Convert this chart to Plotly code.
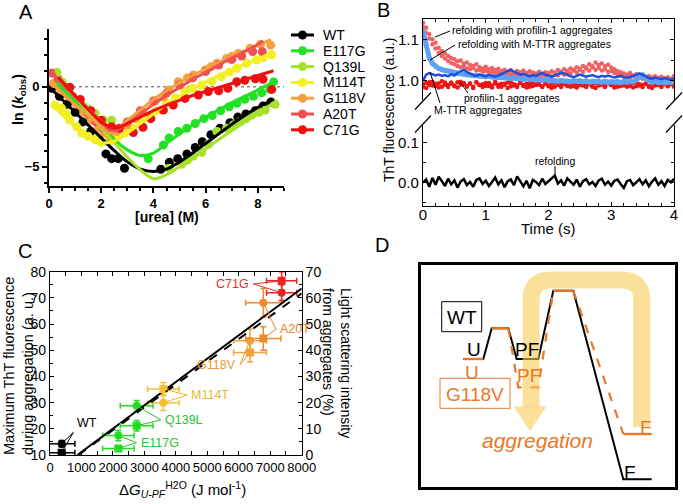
import plotly.graph_objects as go

W, H = 683, 504
FONT = "Liberation Sans, Arial, sans-serif"

# ---------------- Panel A data (chevron plots) ----------------
variants_a = ["WT", "E117G", "Q139L", "M114T", "G118V", "A20T", "C71G"]
colors_a = ["#000000", "#22e022", "#a6e22a", "#f2f020", "#f5a040", "#f05050", "#ee1010"]

wt_urea = [0.1, 0.4, 0.7, 1.0, 1.3, 1.6, 1.9, 2.18, 2.4, 2.65, 2.89, 4.28, 4.61, 4.93, 5.28, 5.6, 5.87, 6.2, 6.55, 6.93, 7.23, 7.54, 7.9, 8.2, 8.5]
wt_lnk = [-0.1, -0.6, -1.1, -1.6, -2.2, -2.8, -3.3, -4.2, -4.5, -4.5, -5.1, -5.16, -4.73, -4.5, -4.2, -3.8, -3.44, -3.0, -2.6, -2.25, -1.9, -1.7, -1.5, -1.2, -0.95]
e117g_urea = [0.4, 0.7, 1.0, 1.3, 1.6, 1.9, 2.2, 3.8, 4.38, 4.6, 4.95, 5.28, 5.6, 5.93, 6.25, 6.57, 6.9, 7.2, 7.5, 7.83, 8.15, 8.47, 8.6]
e117g_lnk = [0.1, -0.4, -0.9, -1.4, -1.9, -2.4, -2.9, -4.5, -3.64, -3.2, -2.8, -2.6, -2.3, -2.0, -1.8, -1.5, -1.25, -1.04, -0.79, -0.6, -0.37, -0.16, 0.3]
q139l_urea = [0.3, 0.5, 0.7, 0.9, 1.1, 1.3, 1.5, 1.76, 2.08, 2.4, 4.6, 5.08, 5.3, 5.53, 5.85, 6.1, 6.43, 6.8, 7.05, 7.32, 7.55, 7.77, 8.05, 8.28, 8.66]
q139l_lnk = [0.9, 0.3, -0.2, -0.6, -0.9, -1.2, -1.4, -1.66, -2.08, -2.1, -5.1, -4.85, -4.6, -4.33, -4.1, -3.6, -2.8, -2.6, -2.4, -2.19, -2.0, -1.77, -1.6, -1.46, -1.1]
m114t_urea = [0.23, 0.48, 0.65, 0.8, 1.06, 1.25, 1.5, 1.76, 2.0, 2.3, 2.6, 2.9, 3.2, 3.5, 3.8, 4.1, 4.5, 4.84, 5.21, 5.5, 5.85, 6.24, 6.6, 6.9, 7.19, 7.57, 7.95, 8.2, 8.53]
m114t_lnk = [-1.15, -1.35, -1.7, -2.08, -2.5, -2.9, -3.1, -3.3, -3.5, -3.45, -3.2, -2.9, -2.6, -2.2, -1.9, -1.5, -1.04, -0.7, -0.3, -0.1, 0.1, 0.33, 0.63, 0.9, 1.15, 1.46, 1.67, 1.8, 2.0]
g118v_urea = [0.17, 0.45, 0.75, 1.05, 1.35, 1.65, 1.9, 2.1, 2.35, 2.6, 2.98, 3.3, 3.6, 4.06, 4.38, 4.6, 4.95, 5.3, 5.53, 5.98, 6.2, 6.43, 6.8, 7.0, 7.25, 7.7, 8.1, 8.49]
g118v_lnk = [0.2, -0.2, -0.6, -1.1, -1.6, -2.1, -2.6, -2.9, -3.2, -2.8, -2.4, -2.0, -1.6, -0.9, -0.63, -0.2, 0.31, 0.55, 0.73, 1.04, 1.25, 1.46, 1.77, 1.9, 2.08, 2.4, 2.65, 2.6]
a20t_urea = [0.1, 0.35, 0.6, 0.9, 1.2, 1.5, 1.8, 2.1, 2.4, 3.0, 3.5, 4.0, 4.5, 5.0, 5.5, 6.0, 6.5, 7.0, 7.38, 7.8, 8.17]
a20t_lnk = [0.85, 0.5, 0.0, -0.6, -1.2, -1.7, -2.2, -2.6, -2.7, -2.2, -1.5, -0.9, -0.4, 0.1, 0.55, 0.95, 1.35, 1.7, 1.92, 2.2, 2.19]
c71g_urea = [0.8, 1.2, 1.6, 2.0, 2.4, 2.7, 3.23, 3.6, 3.9, 4.38, 4.76, 5.21, 5.72, 6.1, 6.5, 6.85, 7.19, 7.5, 7.9, 8.2, 8.53]
c71g_lnk = [-0.04, -0.8, -1.5, -2.1, -2.5, -2.6, -2.87, -2.54, -2.0, -1.46, -1.15, -0.73, -0.52, -0.3, -0.25, -0.1, 0.31, 0.4, 0.5, 0.46, -0.17]

wt_fit_urea = [0, 0.5, 1, 1.5, 2, 2.5, 3, 3.5, 4, 4.5, 5, 5.5, 6, 6.5, 7, 7.5, 8, 8.6]
wt_fit_lnk = [0, -0.8, -1.6, -2.4, -3.2, -4.0, -4.7, -5.15, -5.3, -5.15, -4.7, -4.15, -3.55, -2.95, -2.35, -1.8, -1.3, -0.8]
e117g_fit_urea = [0.3, 0.5, 1, 1.5, 2, 2.5, 3, 3.5, 4, 4.5, 5, 5.5, 6, 6.5, 7, 7.5, 8, 8.6]
e117g_fit_lnk = [0.3, -0.1, -0.9, -1.7, -2.5, -3.3, -3.95, -4.3, -4.15, -3.55, -2.95, -2.4, -1.9, -1.45, -1.0, -0.6, -0.2, 0.3]
q139l_fit_urea = [0.25, 0.5, 1, 1.5, 2, 2.5, 3, 3.5, 4, 4.5, 5, 5.5, 6, 6.5, 7, 7.5, 8, 8.6]
q139l_fit_lnk = [1.0, 0.4, -0.6, -1.6, -2.6, -3.5, -4.4, -5.2, -5.75, -5.5, -5.0, -4.5, -3.9, -3.3, -2.75, -2.2, -1.7, -1.0]
m114t_fit_urea = [0.2, 0.6, 1, 1.5, 2, 2.5, 3, 3.5, 4, 4.5, 5, 5.5, 6, 6.5, 7, 7.5, 8, 8.6]
m114t_fit_lnk = [-1.3, -1.9, -2.5, -3.1, -3.5, -3.4, -2.9, -2.3, -1.7, -1.1, -0.6, -0.15, 0.3, 0.7, 1.05, 1.4, 1.75, 2.15]
g118v_fit_urea = [0.1, 0.5, 1, 1.5, 2, 2.34, 3, 3.5, 4, 4.5, 5, 5.5, 6, 6.5, 7, 7.5, 8, 8.5]
g118v_fit_lnk = [0.2, -0.4, -1.1, -1.8, -2.5, -2.9, -2.1, -1.45, -0.8, -0.25, 0.25, 0.7, 1.1, 1.5, 1.9, 2.25, 2.6, 2.95]
a20t_fit_urea = [0.1, 0.5, 1, 1.5, 2, 2.5, 3, 3.5, 4, 4.5, 5, 5.5, 6, 6.5, 7, 7.5, 8, 8.2]
a20t_fit_lnk = [0.8, 0.2, -0.6, -1.4, -2.15, -2.75, -2.3, -1.7, -1.1, -0.55, -0.05, 0.45, 0.9, 1.35, 1.8, 2.2, 2.65, 2.85]
c71g_fit_urea = [0.35, 0.8, 1.2, 1.6, 2.0, 2.5, 3, 3.5, 4, 4.5, 5, 5.5, 6, 6.5, 7, 7.5, 8, 8.6]
c71g_fit_lnk = [0.6, -0.2, -0.9, -1.6, -2.2, -2.6, -2.3, -1.9, -1.5, -1.15, -0.85, -0.55, -0.3, -0.05, 0.2, 0.45, 0.7, 1.0]

pts_a = [(wt_urea, wt_lnk), (e117g_urea, e117g_lnk), (q139l_urea, q139l_lnk), (m114t_urea, m114t_lnk),
         (g118v_urea, g118v_lnk), (a20t_urea, a20t_lnk), (c71g_urea, c71g_lnk)]
fits_a = [(wt_fit_urea, wt_fit_lnk), (e117g_fit_urea, e117g_fit_lnk), (q139l_fit_urea, q139l_fit_lnk),
          (m114t_fit_urea, m114t_fit_lnk), (g118v_fit_urea, g118v_fit_lnk), (a20t_fit_urea, a20t_fit_lnk),
          (c71g_fit_urea, c71g_fit_lnk)]

# ---------------- Panel B data (ThT kinetics) ----------------
time_s = [round(0.05 * i, 2) for i in range(81)]
refold_profilin_a = [1.140, 1.128, 1.112, 1.100, 1.092, 1.080, 1.072, 1.066, 1.060, 1.055,
                     1.052, 1.047, 1.049, 1.042, 1.044, 1.038, 1.036, 1.040, 1.033, 1.030,
                     1.034, 1.028, 1.031, 1.026, 1.029, 1.024, 1.027, 1.022, 1.026, 1.020,
                     1.024, 1.021, 1.025, 1.019, 1.023, 1.020, 1.018, 1.022, 1.017, 1.021,
                     1.019, 1.023, 1.020, 1.026, 1.022, 1.028, 1.024, 1.030, 1.027, 1.033,
                     1.029, 1.036, 1.032, 1.040, 1.035, 1.044, 1.038, 1.042, 1.035, 1.039,
                     1.032, 1.028, 1.024, 1.021, 1.018, 1.015, 1.019, 1.013, 1.016, 1.011,
                     1.014, 1.010, 1.012, 1.008, 1.011, 1.007, 1.010, 1.006, 1.009, 1.005,
                     1.012]
refold_profilin_b = [1.130, 1.116, 1.102, 1.088, 1.078, 1.068, 1.060, 1.054, 1.048, 1.043,
                     1.040, 1.036, 1.033, 1.035, 1.030, 1.028, 1.031, 1.025, 1.027, 1.022,
                     1.024, 1.020, 1.022, 1.017, 1.020, 1.015, 1.018, 1.013, 1.016, 1.012,
                     1.015, 1.011, 1.014, 1.010, 1.013, 1.009, 1.012, 1.008, 1.013, 1.010,
                     1.014, 1.011, 1.016, 1.013, 1.019, 1.015, 1.021, 1.018, 1.025, 1.020,
                     1.027, 1.022, 1.030, 1.025, 1.033, 1.027, 1.031, 1.025, 1.028, 1.022,
                     1.024, 1.019, 1.016, 1.013, 1.010, 1.012, 1.008, 1.011, 1.006, 1.009,
                     1.005, 1.008, 1.004, 1.007, 1.003, 1.006, 1.002, 1.005, 1.001, 1.004,
                     1.007]
profilin_agg_a = [0.985, 0.995, 0.990, 0.998, 0.988, 0.994, 0.986, 0.996, 0.990, 0.993,
                  0.987, 0.997, 0.991, 0.995, 0.988, 0.993, 0.986, 0.996, 0.990, 0.992,
                  0.988, 0.995, 0.989, 0.994, 0.986, 0.993, 0.990, 0.996, 0.987, 0.992,
                  0.989, 0.995, 0.988, 0.993, 0.986, 0.994, 0.990, 0.992, 0.987, 0.996,
                  0.989, 0.993, 0.986, 0.995, 0.990, 0.992, 0.988, 0.994, 0.987, 0.993,
                  0.990, 0.996, 0.988, 0.992, 0.986, 0.995, 0.989, 0.993, 0.987, 0.994,
                  0.990, 0.992, 0.986, 0.996, 0.989, 0.993, 0.988, 0.995, 0.987, 0.992,
                  0.990, 0.994, 0.986, 0.993, 0.989, 0.995, 0.988, 0.992, 0.987, 0.994,
                  0.990]
profilin_agg_b = [0.992, 0.983, 0.997, 0.989, 0.993, 0.984, 0.999, 0.991, 0.985, 0.996,
                  0.989, 0.984, 0.998, 0.992, 0.986, 0.994, 0.983, 0.997, 0.990, 0.985,
                  0.995, 0.988, 0.984, 0.998, 0.991, 0.986, 0.993, 0.983, 0.996, 0.989,
                  0.985, 0.997, 0.990, 0.984, 0.994, 0.988, 0.999, 0.991, 0.985, 0.993,
                  0.987, 0.983, 0.996, 0.990, 0.985, 0.998, 0.992, 0.986, 0.994, 0.984,
                  0.997, 0.989, 0.985, 0.993, 0.987, 0.983, 0.996, 0.991, 0.985, 0.998,
                  0.990, 0.984, 0.994, 0.988, 0.999, 0.986, 0.992, 0.984, 0.997, 0.989,
                  0.985, 0.993, 0.987, 0.983, 0.996, 0.990, 0.985, 0.994, 0.988, 0.992,
                  0.986]
refold_mttr = [1.120, 1.085, 1.055, 1.042, 1.035, 1.030, 1.027, 1.025, 1.023, 1.021,
               1.020, 1.018, 1.017, 1.016, 1.015, 1.014, 1.013, 1.013, 1.012, 1.011,
               1.010, 1.011, 1.009, 1.010, 1.008, 1.009, 1.007, 1.008, 1.006, 1.007,
               1.005, 1.006, 1.004, 1.005, 1.003, 1.004, 1.002, 1.004, 1.001, 1.003,
               1.002, 1.000, 1.001, 0.999, 1.001, 0.999, 1.000, 0.998, 1.000, 0.999,
               1.001, 0.998, 1.000, 0.997, 0.999, 0.998, 1.000, 0.997, 0.999, 0.996,
               0.998, 0.997, 0.999, 0.996, 0.998, 0.997, 0.999, 0.998, 1.003, 1.008,
               1.014, 1.006, 1.000, 0.997, 0.999, 0.996, 0.998, 0.995, 0.997, 0.996,
               0.998]
mttr_agg = [1.000, 1.015, 1.019, 1.016, 1.013, 1.015, 1.012, 1.014, 1.011, 1.016,
            1.013, 1.019, 1.024, 1.027, 1.021, 1.017, 1.014, 1.012, 1.015, 1.013,
            1.011, 1.014, 1.012, 1.010, 1.013, 1.016, 1.020, 1.024, 1.026, 1.022,
            1.018, 1.015, 1.017, 1.013, 1.011, 1.014, 1.012, 1.016, 1.019, 1.015,
            1.012, 1.010, 1.013, 1.016, 1.020, 1.018, 1.014, 1.011, 1.009, 1.012,
            1.015, 1.013, 1.010, 1.012, 1.014, 1.011, 1.009, 1.012, 1.010, 1.013,
            1.011, 1.008, 1.010, 1.012, 1.009, 1.007, 1.010, 1.012, 1.015, 1.018,
            1.014, 1.010, 1.007, 1.005, 1.008, 1.006, 1.004, 1.007, 1.005, 1.003,
            1.006]
refold_alone = [0.000, 0.008, -0.010, 0.012, -0.005, 0.015, 0.004, -0.008, 0.010, -0.004,
                0.006, -0.012, 0.003, 0.009, -0.006, 0.002, -0.010, 0.007, 0.011, -0.003,
                0.005, -0.008, 0.002, 0.013, -0.004, 0.006, -0.011, 0.004, 0.008, -0.006,
                0.016, 0.003, -0.009, 0.005, -0.014, 0.007, 0.002, -0.006, 0.010, -0.003,
                0.004, 0.009, 0.018, -0.002, 0.006, -0.007, 0.011, 0.003, -0.005, 0.008,
                -0.010, 0.004, 0.009, -0.004, 0.002, -0.008, 0.006, 0.010, -0.005, 0.003,
                -0.007, 0.005, 0.008, -0.003, -0.013, 0.004, 0.007, -0.006, 0.002, 0.009,
                -0.004, 0.006, -0.009, 0.003, 0.011, -0.005, 0.004, -0.008, 0.007, 0.001,
                0.010]

# ---------------- Panel C data ----------------
variants_c = ["WT", "E117G", "Q139L", "M114T", "G118V", "A20T", "C71G"]
colors_c = ["#000000", "#22dd22", "#22dd22", "#f2c230", "#f2a23a", "#ef8a2a", "#ee2222"]
label_colors_c = ["#000000", "#2ec42e", "#2ec42e", "#e8b828", "#e89a30", "#e8822a", "#e03030"]
dg_upf = [371, 2172, 2754, 3602, 6356, 6780, 7362]
dg_err = [420, 500, 520, 500, 520, 560, 480]
tht_max = [14.3, 17.4, 28.8, 30.0, 53.6, 68.1, 72.0]
tht_err = [1.2, 2.0, 2.0, 3.0, 4.5, 5.5, 3.0]
scatter_pct = [0.9, 2.5, 11.2, 25.2, 39.1, 44.5, 66.5]
scatter_err = [0.8, 1.0, 2.0, 2.5, 3.5, 4.5, 3.5]
fit_tht_x = [870, 8000]
fit_tht_y = [10, 73.6]
fit_scatter_x = [900, 8000]
fit_scatter_y = [0, 61.7]

# ---------------- helpers (pixel -> paper) ----------------
def xd(a, b):
    return [a / W, b / W]

def yd(top, bottom):
    return [1 - bottom / H, 1 - top / H]

def px(x, y):
    return x / W, 1 - y / H

fig = go.Figure()
shapes = []
annots = []

def ann(x, y, text, size=12, color="black", xanchor="center", yanchor="middle", angle=0,
        align="center", weight="normal", italic=False, xref="paper", yref="paper", family=FONT):
    if xref == "paper":
        x = x / W
    if yref == "paper":
        y = 1 - y / H
    annots.append(dict(x=x, y=y, xref=xref, yref=yref, text=text, showarrow=False,
                       xanchor=xanchor, yanchor=yanchor, textangle=angle, align=align,
                       font=dict(family=family, size=size, color=color, weight=weight,
                                 style="italic" if italic else "normal")))

def pline(x0, y0, x1, y1, color="black", width=1, dash="solid"):
    a0, b0 = px(x0, y0)
    a1, b1 = px(x1, y1)
    shapes.append(dict(type="line", xref="paper", yref="paper", x0=a0, y0=b0, x1=a1, y1=b1,
                       line=dict(color=color, width=width, dash=dash)))

# ================= Panel A =================
for name, col, (ux, uy) in zip(variants_a, colors_a, pts_a):
    fig.add_trace(go.Scatter(x=ux, y=uy, mode="markers", marker=dict(color=col, size=9),
                             xaxis="x", yaxis="y", showlegend=False, name=name))
for name, col, (fx, fy) in zip(variants_a, colors_a, fits_a):
    fig.add_trace(go.Scatter(x=fx, y=fy, mode="lines", line=dict(color=col, width=3, shape="spline"),
                             xaxis="x", yaxis="y", showlegend=False, name=name + " fit"))
shapes.append(dict(type="line", xref="x", yref="y", x0=0, x1=9, y0=0, y1=0,
                   line=dict(color="#888888", width=1.5, dash="dot"), layer="below"))
# manual legend
for i, (name, col) in enumerate(zip(variants_a, colors_a)):
    yy = 35 + 15.8 * i
    pline(291, yy, 314, yy, color=col, width=3)
    cx, cy = px(302.5, yy)
    rx, ry = 4.5 / W, 4.5 / H
    shapes.append(dict(type="circle", xref="paper", yref="paper", x0=cx - rx, x1=cx + rx,
                       y0=cy - ry, y1=cy + ry, fillcolor=col, line=dict(color=col, width=0)))
    ann(321, yy, name, size=14, xanchor="left")

ann(26, 12, "A", size=20)
ann(166.5, 216.5, "<b>[urea] (M)</b>", size=14)
ann(19, 100, "<b>ln (<i>k</i><sub>obs</sub>)</b>", size=14, angle=-90)

# ================= Panel B =================
b_red_light = "#f06262"
b_red = "#ee1515"
b_blue_light = "#5ea2f2"
b_blue = "#1f4fe0"
for series in (refold_profilin_a, refold_profilin_b):
    fig.add_trace(go.Scatter(x=time_s, y=series, mode="markers",
                             marker=dict(color=b_red_light, size=4.5), xaxis="x3", yaxis="y3",
                             showlegend=False))
for series in (profilin_agg_a, profilin_agg_b):
    fig.add_trace(go.Scatter(x=time_s, y=series, mode="markers",
                             marker=dict(color=b_red, size=4.5), xaxis="x3", yaxis="y3",
                             showlegend=False))
fig.add_trace(go.Scatter(x=time_s, y=refold_mttr, mode="lines+markers",
                         line=dict(color=b_blue_light, width=5), marker=dict(color=b_blue_light, size=5),
                         xaxis="x3", yaxis="y3", showlegend=False))
fig.add_trace(go.Scatter(x=time_s, y=mttr_agg, mode="lines", line=dict(color=b_blue, width=2.5),
                         xaxis="x3", yaxis="y3", showlegend=False))
fig.add_trace(go.Scatter(x=time_s, y=refold_alone, mode="lines", line=dict(color="black", width=2.5),
                         xaxis="x2", yaxis="y2", showlegend=False))

ann(383, 10, "B", size=20)
ann(548, 229, "Time (s)", size=15)
ann(389, 110, "ThT fluorescence (a.u.)", size=14, angle=-90)
ann(450, 30, "refolding with profilin-1 aggregates", size=10.5, xanchor="left")
pline(450, 31, 435, 37)
ann(456, 43.5, "refolding with M-TTR aggregates", size=10.5, xanchor="left")
pline(455, 45, 430, 60)
ann(462, 98, "profilin-1 aggregates", size=10.5, xanchor="left")
pline(460, 82, 468, 93)
ann(432, 110, "M-TTR aggregates", size=10.5, xanchor="left")
pline(430, 72, 440, 103)
ann(555, 161, "refolding", size=10.5)
pline(555, 166, 555, 176)
# axis break marks
for cxp in (423, 674):
    for cyp in (101, 124):
        pline(cxp - 8, cyp + 8.5, cxp + 8, cyp - 8.5, width=1.2)

# ================= Panel C =================
for i in range(len(variants_c)):
    col = colors_c[i]
    fig.add_trace(go.Scatter(x=[dg_upf[i]], y=[tht_max[i]], mode="markers",
                             marker=dict(color=col, size=8, symbol="circle"),
                             error_x=dict(type="data", array=[dg_err[i]], color=col, thickness=1.5, width=3),
                             error_y=dict(type="data", array=[tht_err[i]], color=col, thickness=1.5, width=3),
                             xaxis="x4", yaxis="y4", showlegend=False))
    fig.add_trace(go.Scatter(x=[dg_upf[i]], y=[scatter_pct[i]], mode="markers",
                             marker=dict(color=col, size=8, symbol="square"),
                             error_x=dict(type="data", array=[dg_err[i]], color=col, thickness=1.5, width=3),
                             error_y=dict(type="data", array=[scatter_err[i]], color=col, thickness=1.5, width=3),
                             xaxis="x4", yaxis="y5", showlegend=False))
fig.add_trace(go.Scatter(x=fit_tht_x, y=fit_tht_y, mode="lines", line=dict(color="black", width=2),
                         xaxis="x4", yaxis="y4", showlegend=False))
fig.add_trace(go.Scatter(x=fit_scatter_x, y=fit_scatter_y, mode="lines",
                         line=dict(color="black", width=2, dash="dash"),
                         xaxis="x4", yaxis="y5", showlegend=False))

label_pos_c = [(741, 18.6, "left"), (2754, 14.7, "left"), (3528, 23.4, "left"), (4365, 32.9, "left"),
               (6040, 44.5, "right"), (7182, 58.0, "left"), (6462, 75.3, "right")]
for i, (lx, ly, anc) in enumerate(label_pos_c):
    col = label_colors_c[i]
    annots.append(dict(x=lx, y=ly, xref="x4", yref="y4", text=variants_c[i], showarrow=False,
                       xanchor=anc, yanchor="middle" if i != 0 else "bottom",
                       xshift=2 if anc == "left" else -2,
                       font=dict(family=FONT, size=12.5, color=col)))
    for yv in (tht_max[i], scatter_pct[i] + 10):
        shapes.append(dict(type="line", xref="x4", yref="y4", x0=lx, y0=ly, x1=dg_upf[i], y1=yv,
                           line=dict(color=col, width=1)))

ann(25, 251, "C", size=20)
ann(182, 489, "Δ<i>G</i><sub><i>U-PF</i></sub><sup>H2O</sup> (J mol<sup>-1</sup>)", size=15)
ann(18, 457, "Maximum ThT fluorescence<br>during aggregation (a. u.)", size=14.5, angle=-90,
    yanchor="bottom", align="left")
ann(337, 286, "Light scattering intensity<br>from aggregates (%)", size=14, angle=90,
    yanchor="top", align="left")

# ================= Panel D =================
yellow = "rgba(248,203,85,0.6)"
arc_path = "M 641.7,427 L 641.7,300 Q 641.7,280 621.7,280 L 551,280 Q 531,280 531,300 L 531,407"
shapes.append(dict(type="path", xref="x6", yref="y6", path=arc_path,
                   line=dict(color=yellow, width=17), layer="above"))
shapes.append(dict(type="path", xref="x6", yref="y6", path="M 513.5,406.5 L 546.5,406.5 L 530,431 Z",
                   fillcolor=yellow, line=dict(width=0), layer="above"))

orange = "#e8782a"
wt_path_x = [463.3, 483.3, 491.7, 508.3, 516.7, 538.3, 553.3, 573.3, 623.3, 651.7]
wt_path_y = [359, 359, 328.3, 328.3, 359, 359, 290.7, 290.7, 479.3, 479.3]
mut_solid = [((463.3, 359), (483.3, 359)), ((491.7, 328.3), (508.3, 328.3)),
             ((553.3, 290.7), (573.3, 290.7)), ((623.3, 434), (651.7, 434))]
mut_dash_1_x = [508.3, 518.3, 538.3, 553.3]
mut_dash_1_y = [328.3, 387.3, 387.3, 290.7]
mut_dash_2_x = [573.3, 623.3]
mut_dash_2_y = [290.7, 434]

fig.add_trace(go.Scatter(x=wt_path_x, y=wt_path_y, mode="lines", line=dict(color="black", width=2),
                         xaxis="x6", yaxis="y6", showlegend=False))
for xs, ys in ((mut_dash_1_x, mut_dash_1_y), (mut_dash_2_x, mut_dash_2_y)):
    fig.add_trace(go.Scatter(x=xs, y=ys, mode="lines", line=dict(color=orange, width=2.2, dash="dash"),
                             xaxis="x6", yaxis="y6", showlegend=False))
for (a, b) in mut_solid:
    fig.add_trace(go.Scatter(x=[a[0], b[0]], y=[a[1], b[1]], mode="lines",
                             line=dict(color=orange, width=2.4), xaxis="x6", yaxis="y6", showlegend=False))

shapes.append(dict(type="rect", xref="x6", yref="y6", x0=441.7, x1=481.7, y0=301.7, y1=331.7,
                   line=dict(color="black", width=1)))
shapes.append(dict(type="rect", xref="x6", yref="y6", x0=440, x1=510, y0=378.3, y1=408.3,
                   line=dict(color=orange, width=1)))
ann(382, 245, "D", size=20)
ann(461.7, 317, "WT", size=19)
ann(474, 349, "U", size=19)
ann(527, 349, "PF", size=19)
ann(472, 372, "U", size=19, color=orange)
ann(529, 375, "PF", size=19, color=orange)
ann(475, 394, "G118V", size=19, color=orange)
ann(537, 440, "aggregation", size=21, color=orange, italic=True)
ann(646, 427, "F", size=19, color=orange)
ann(630, 472, "F", size=19)

# ================= Layout =================
tick_font = dict(family=FONT, size=13, color="black")
common_in = dict(showgrid=False, zeroline=False, showline=True, linecolor="black", ticks="inside",
                 tickcolor="black", automargin=False, tickangle=0)
minor_in = lambda d: dict(tickmode="linear", tick0=0, dtick=d, ticks="inside", ticklen=2.5, tickcolor="black")

fig.update_layout(
    template="none",
    width=W, height=H, margin=dict(l=0, r=0, t=0, b=0, autoexpand=False),
    paper_bgcolor="white", plot_bgcolor="rgba(0,0,0,0)", showlegend=False,
    font=dict(family=FONT, color="black"),
    xaxis=dict(domain=xd(49, 284), range=[0, 9], anchor="y", showgrid=False, zeroline=False, automargin=False,
               showline=True, linecolor="black", linewidth=2, ticks="outside", ticklen=5, tickwidth=2,
               tickmode="linear", tick0=0, dtick=2, tickcolor="black", tickangle=0,
               tickfont=dict(family=FONT, size=13, color="black", weight="bold"),
               minor=dict(tickmode="linear", tick0=0, dtick=0.5, ticks="outside", ticklen=3, tickwidth=1.5,
                          tickcolor="black")),
    yaxis=dict(domain=yd(29.3, 185.7), range=[-6.19, 3.59], anchor="x", showgrid=False, zeroline=False,
               automargin=False,
               showline=True, linecolor="black", linewidth=2, ticks="outside", ticklen=5, tickwidth=2,
               tickmode="array", tickvals=[-5, 0], tickcolor="black",
               tickfont=dict(family=FONT, size=13, color="black", weight="bold"),
               minor=dict(tickmode="linear", tick0=0, dtick=1, ticks="outside", ticklen=3, tickwidth=1.5,
                          tickcolor="black")),
    xaxis2=dict(domain=xd(423, 674), range=[0, 4], anchor="y2", tickmode="linear", tick0=0, dtick=1,
                ticklen=4, linewidth=1.2, tickfont=dict(family=FONT, size=15, color="black"),
                ticklabelstandoff=-5,
                minor=minor_in(0.2), **common_in),
    yaxis2=dict(domain=yd(125, 206), range=[-0.058, 0.144], anchor="x2", tickmode="array",
                tickvals=[0, 0.1], ticktext=["0.0", "0.1"], mirror="allticks", ticklen=4, linewidth=1.2,
                tickfont=dict(family=FONT, size=15, color="black"),
                minor=minor_in(0.05), **common_in),
    xaxis3=dict(domain=xd(423, 674), range=[0, 4], anchor="y3", side="top", showticklabels=False,
                tickmode="linear", tick0=0, dtick=1, ticklen=4, linewidth=1.2,
                minor=minor_in(0.2), **common_in),
    yaxis3=dict(domain=yd(19, 100), range=[0.954, 1.149], anchor="x3", tickmode="array",
                tickvals=[1.0, 1.1], ticktext=["1.0", "1.1"], mirror="allticks", ticklen=4, linewidth=1.2,
                tickfont=dict(family=FONT, size=15, color="black"),
                minor=minor_in(0.05), **common_in),
    xaxis4=dict(domain=xd(50, 301.7), range=[0, 8000], anchor="y4", tickmode="linear", tick0=0, dtick=1000,
                mirror="allticks", ticklen=4, linewidth=1.2, tickfont=tick_font,
                minor=minor_in(500), **common_in),
    yaxis4=dict(domain=yd(271.7, 455), range=[10, 80], anchor="x4", tickmode="linear", tick0=10, dtick=10,
                ticklen=4, linewidth=1.2, tickfont=dict(family=FONT, size=14, color="black"),
                minor=minor_in(5), **common_in),
    yaxis5=dict(domain=yd(271.7, 455), range=[0, 70], anchor="x4", overlaying="y4", side="right",
                tickmode="linear", tick0=0, dtick=10, ticklen=4, linewidth=1.2,
                tickfont=dict(family=FONT, size=14, color="black"),
                minor=minor_in(5), **common_in),
    xaxis6=dict(domain=xd(421, 675), range=[421, 675], anchor="y6", showgrid=False, zeroline=False,
                automargin=False,
                showline=True, mirror=True, linecolor="black", linewidth=2.5, showticklabels=False, ticks=""),
    yaxis6=dict(domain=yd(265, 487), range=[487, 265], anchor="x6", showgrid=False, zeroline=False,
                automargin=False,
                showline=True, mirror=True, linecolor="black", linewidth=2.5, showticklabels=False, ticks=""),
    shapes=shapes,
    annotations=annots,
)

fig.write_html("out.html", config={"displayModeBar": False},
               post_script="document.body.style.margin='0px';document.body.style.overflow='hidden';")
